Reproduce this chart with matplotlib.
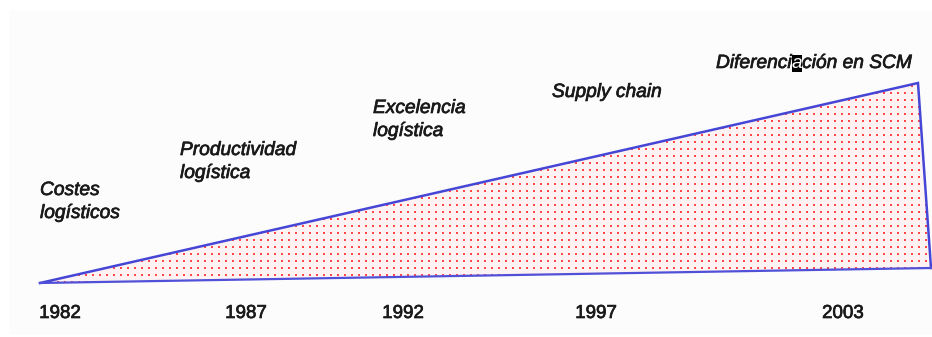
import numpy as np
import matplotlib
matplotlib.use("Agg")
import matplotlib.pyplot as plt
import matplotlib.patheffects as pe
from matplotlib.patches import Polygon, Rectangle

# etapas de la evolución de la logística
etapas = ["Costes\nlogísticos", "Productividad\nlogística", "Excelencia\nlogística", "Supply chain"]
etapa_final = ["Diferenci", "a", "ción en SCM"]
anios = ["1982", "1987", "1992", "1997", "2003"]

# cuña (coordenadas en píxeles de la figura)
cuna_x = [40, 918, 931, 40]
cuna_y = [283, 83, 268, 283]
base_x = [40, 931]
base_y = [283, 268]

# posiciones de los textos
etapas_x = [40, 180, 373, 552]
etapas_y = [195, 155, 113, 97]
final_x, final_y = 716, 72
anios_x = [60, 246, 403, 596, 843]
anios_y = 318

W, H = 932, 337
fig = plt.figure(figsize=(W / 100, H / 100), dpi=100, facecolor="white")
ax = fig.add_axes([0, 0, 1, 1])
ax.set_xlim(0, W)
ax.set_ylim(H, 0)
ax.axis("off")

ax.add_patch(Rectangle((9, 10), W - 9, H - 12, facecolor="#fcfcfc", edgecolor="none", zorder=0))

# relleno punteado rojo recortado a la cuña
tri = Polygon(list(zip(cuna_x, cuna_y)), closed=True,
              facecolor="#fff2f2", edgecolor="none", zorder=1)
ax.add_patch(tri)
gx, gy = np.meshgrid(np.arange(44, 932, 7.0), np.arange(86, 284, 7.0))
pts = ax.scatter(gx.ravel(), gy.ravel(), s=4.0, marker="s", color="#ff1010",
                 alpha=0.75, linewidths=0, zorder=2)
pts.set_clip_path(tri)

# bordes de la cuña
ax.plot(cuna_x[:3], cuna_y[:3], color="#4646d6", lw=1.8, zorder=3,
        solid_joinstyle="miter")
ax.plot(base_x, base_y, color="#5050d8", lw=1.6, zorder=3)

grosor = [pe.withStroke(linewidth=0.5, foreground="#1a1a1a")]
fuente = dict(family=["Liberation Sans", "DejaVu Sans"], color="#1a1a1a")

for txt, x, y in zip(etapas, etapas_x, etapas_y):
    for i, linea in enumerate(txt.split("\n")):
        ax.text(x, y + i * 23, linea, fontsize=13.8, style="italic", ha="left",
                va="baseline", path_effects=grosor, **fuente)

t1 = ax.text(final_x, final_y, etapa_final[0], fontsize=13.8, style="italic",
             ha="left", va="bottom", path_effects=grosor, **fuente)
t2 = ax.annotate(etapa_final[1], xy=(1, 0), xycoords=t1, fontsize=13.8, style="italic",
                 ha="left", va="bottom", family=["Liberation Sans", "DejaVu Sans"],
                 color="white",
                 bbox=dict(boxstyle="square,pad=0", facecolor="black", edgecolor="none"))
ax.annotate(etapa_final[2], xy=(1, 0), xycoords=t2, fontsize=13.8, style="italic",
            ha="left", va="bottom", path_effects=grosor, **fuente)

for a, x in zip(anios, anios_x):
    ax.text(x, anios_y, a, fontsize=13.5, ha="center", va="baseline",
            path_effects=grosor, **fuente)

fig.savefig("out.png", dpi=100, facecolor="white")
